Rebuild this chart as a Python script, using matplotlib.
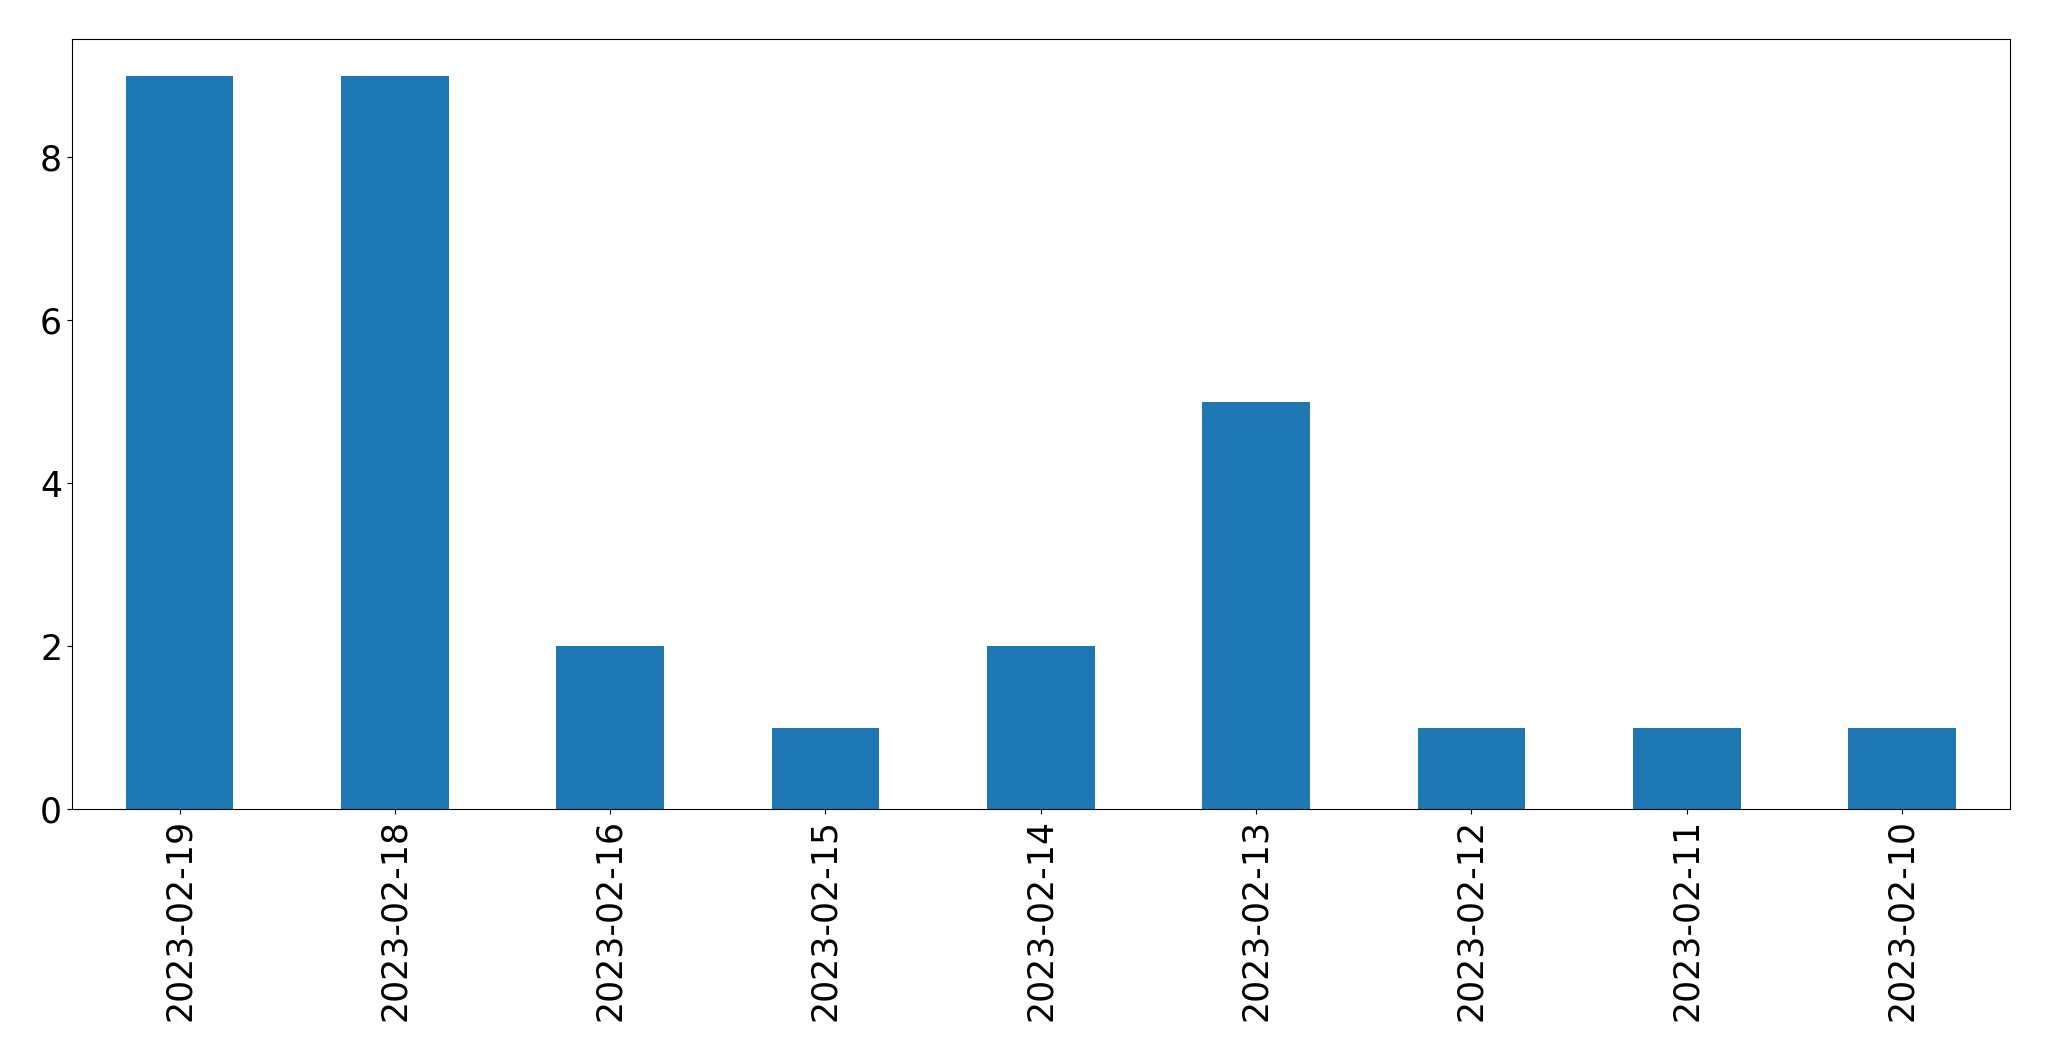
import matplotlib
matplotlib.use("Agg")
import matplotlib.pyplot as plt
import pandas as pd

# dates and counts
dates = ["2023-02-19", "2023-02-18", "2023-02-16", "2023-02-15", "2023-02-14",
         "2023-02-13", "2023-02-12", "2023-02-11", "2023-02-10"]
counts = [9, 9, 2, 1, 2, 5, 1, 1, 1]

s = pd.Series(counts, index=dates)

fig = plt.figure(figsize=(20.49, 10.61), dpi=100)
ax = fig.add_axes([0.0351, 0.2375, 0.9457, 0.7255])
s.plot(kind="bar", ax=ax, color="#1f77b4")
ax.tick_params(axis="both", labelsize=25)
ax.set_yticks([0, 2, 4, 6, 8])

fig.savefig("out.png", dpi=100)
